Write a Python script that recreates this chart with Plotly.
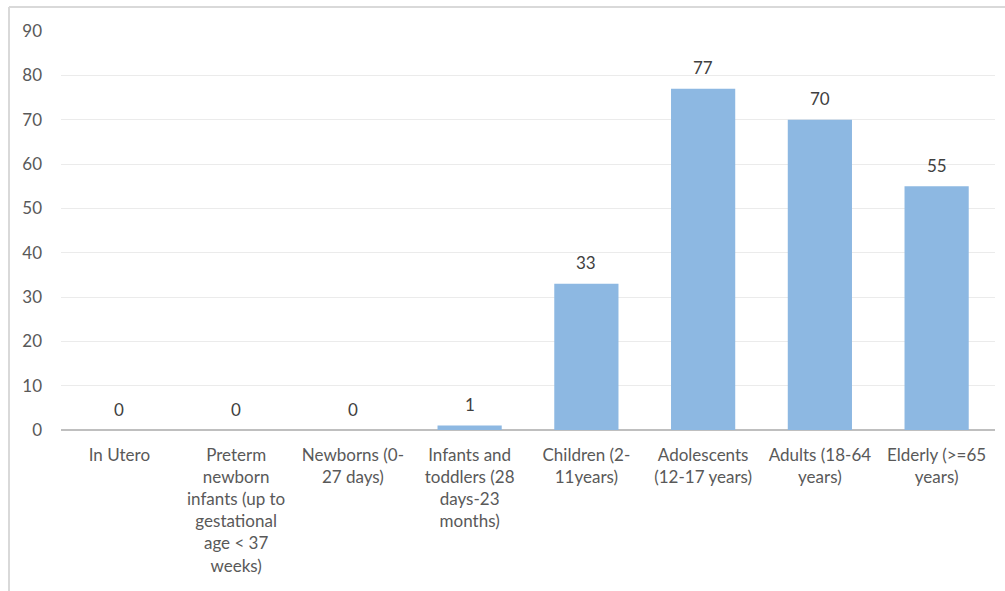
import plotly.graph_objects as go

categories = [
    "In Utero",
    "Preterm<br>newborn<br>infants (up to<br>gestational<br>age &lt; 37<br>weeks)",
    "Newborns (0-<br>27 days)",
    "Infants and<br>toddlers (28<br>days-23<br>months)",
    "Children (2-<br>11years)",
    "Adolescents<br>(12-17 years)",
    "Adults (18-64<br>years)",
    "Elderly (&gt;=65<br>years)",
]
values = [0, 0, 0, 1, 33, 77, 70, 55]
y_ticks = [0, 10, 20, 30, 40, 50, 60, 70, 80, 90]

FONT = "Lato"
xs = list(range(len(categories)))

fig = go.Figure(
    go.Bar(
        x=xs,
        y=values,
        marker=dict(color="#8DB8E2", line=dict(width=0)),
        width=0.55,
        hoverinfo="skip",
    )
)

annotations = [
    dict(x=x, y=v, xref="x", yref="y", text=str(v), showarrow=False,
         yanchor="middle", yshift=21,
         font=dict(family=FONT, size=17, color="#404040"))
    for x, v in zip(xs, values)
]

fig.update_layout(
    width=1005,
    height=591,
    margin=dict(l=61, r=10, t=31, b=161),
    paper_bgcolor="white",
    plot_bgcolor="white",
    showlegend=False,
    font=dict(family=FONT, size=17, color="#595959"),
    annotations=annotations,
    xaxis=dict(
        tickmode="array",
        tickvals=xs,
        ticktext=categories,
        range=[-0.5, len(categories) - 0.5],
        showgrid=False,
        showline=False,
        zeroline=False,
        ticks="",
        tickangle=0,
        ticklabelstandoff=13,
        tickfont=dict(family=FONT, size=17, color="#595959"),
    ),
    yaxis=dict(
        range=[0, 90],
        tickvals=y_ticks,
        showgrid=True,
        gridcolor="#EBEBEB",
        gridwidth=1,
        zeroline=True,
        zerolinecolor="#BFBFBF",
        zerolinewidth=2,
        showline=False,
        ticks="",
        ticklabelstandoff=18,
        tickfont=dict(family=FONT, size=17, color="#595959"),
    ),
    shapes=[
        dict(type="line", xref="paper", yref="paper",
             x0=(9 - 61) / 934, x1=(1005 - 61) / 934, y0=(430 - 7) / 399, y1=(430 - 7) / 399,
             line=dict(color="#D9D9D9", width=2)),
        dict(type="line", xref="paper", yref="paper",
             x0=(9 - 61) / 934, x1=(9 - 61) / 934, y0=(430 - 7) / 399, y1=(430 - 600) / 399,
             line=dict(color="#D9D9D9", width=2)),
    ],
)

fig.write_html("out.html")
